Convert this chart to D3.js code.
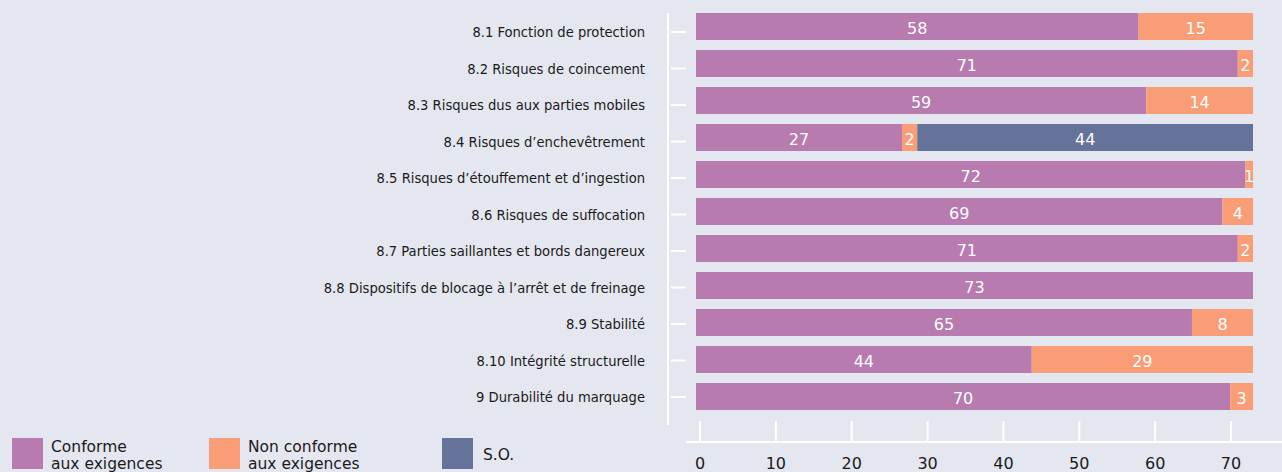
<!DOCTYPE html>
<html>
<head>
<meta charset="utf-8">
<script src="https://cdn.jsdelivr.net/npm/d3@7"></script>
<style>
  html, body { margin: 0; padding: 0; background: #e4e7ef; }
  svg { display: block; }
</style>
</head>
<body>
<script>
// Data
const categories = [
  '8.1 Fonction de protection',
  '8.2 Risques de coincement',
  '8.3 Risques dus aux parties mobiles',
  '8.4 Risques d\u2019enchevêtrement',
  '8.5 Risques d\u2019étouffement et d\u2019ingestion',
  '8.6 Risques de suffocation',
  '8.7 Parties saillantes et bords dangereux',
  '8.8 Dispositifs de blocage à l\u2019arrêt et de freinage',
  '8.9 Stabilité',
  '8.10 Intégrité structurelle',
  '9 Durabilité du marquage'
];
const conforme = [58, 71, 59, 27, 72, 69, 71, 73, 65, 44, 70];
const nonConforme = [15, 2, 14, 2, 1, 4, 2, 0, 8, 29, 3];
const so = [0, 0, 0, 44, 0, 0, 0, 0, 0, 0, 0];
const xTicks = [0, 10, 20, 30, 40, 50, 60, 70];

const seriesKeys = ['conforme', 'nonConforme', 'so'];
const seriesLabels = [['Conforme', 'aux exigences'], ['Non conforme', 'aux exigences'], ['S.O.']];
const colors = ['#b77baf', '#f99d77', '#65729a'];

const width = 1282;
const height = 472;

const svg = d3.select('body')
  .append('svg')
  .attr('width', width)
  .attr('height', height);

svg.append('rect')
  .attr('width', width)
  .attr('height', height)
  .attr('fill', '#e4e7ef');

// Scales (bars and axis are slightly offset from each other in the original)
const x = d3.scaleLinear().domain([0, 73]).range([696, 1253]);
const xAx = d3.scaleLinear().domain([0, 70]).range([700, 1231]);
const y = d3.scaleBand().domain(categories).range([13, 410]).paddingInner(10 / 37).paddingOuter(0);
const yLab = d3.scalePoint().domain(categories).range([32, 397]);

const rows = categories.map((c, i) => ({
  cat: c, conforme: conforme[i], nonConforme: nonConforme[i], so: so[i]
}));
const stacked = d3.stack().keys(seriesKeys)(rows);

// Bars
const layers = svg.selectAll('g.layer')
  .data(stacked)
  .join('g')
  .attr('class', 'layer')
  .attr('fill', (d, i) => colors[i]);

layers.selectAll('rect')
  .data(d => d)
  .join('rect')
  .attr('x', d => x(d[0]))
  .attr('y', d => y(d.data.cat))
  .attr('width', d => x(d[1]) - x(d[0]))
  .attr('height', y.bandwidth());

// Value labels
layers.selectAll('text')
  .data(d => d.filter(p => p[1] - p[0] > 0))
  .join('text')
  .attr('x', d => (x(d[0]) + x(d[1])) / 2)
  .attr('y', d => y(d.data.cat) + y.bandwidth() / 2 + 7.5)
  .attr('text-anchor', 'middle')
  .attr('fill', '#ffffff')
  .attr('font-family', '"DejaVu Sans", Verdana, sans-serif')
  .attr('font-size', 16)
  .text(d => d[1] - d[0]);

// Y axis
svg.append('line')
  .attr('x1', 668).attr('x2', 668)
  .attr('y1', 13).attr('y2', 425)
  .attr('stroke', '#ffffff').attr('stroke-width', 2);

const yAxis = svg.append('g');
yAxis.selectAll('line')
  .data(categories)
  .join('line')
  .attr('x1', 671).attr('x2', 686)
  .attr('y1', d => yLab(d))
  .attr('y2', d => yLab(d))
  .attr('stroke', '#ffffff').attr('stroke-width', 2);

yAxis.selectAll('text')
  .data(categories)
  .join('text')
  .attr('x', 645)
  .attr('y', d => yLab(d))
  .attr('dy', '0.36em')
  .attr('text-anchor', 'end')
  .attr('fill', '#1a1a1a')
  .attr('font-family', '"DejaVu Sans Condensed", "Liberation Sans Narrow", sans-serif')
  .attr('font-size', 14.6)
  .text(d => d);

// X axis
const xAxis = svg.append('g');
xAxis.append('line')
  .attr('x1', 686).attr('x2', width)
  .attr('y1', 442).attr('y2', 442)
  .attr('stroke', '#ffffff').attr('stroke-width', 2);

xAxis.selectAll('line.tick')
  .data(xTicks)
  .join('line')
  .attr('class', 'tick')
  .attr('x1', d => xAx(d)).attr('x2', d => xAx(d))
  .attr('y1', 421).attr('y2', 442)
  .attr('stroke', '#ffffff').attr('stroke-width', 2);

xAxis.selectAll('text')
  .data(xTicks)
  .join('text')
  .attr('x', d => xAx(d))
  .attr('y', 469)
  .attr('text-anchor', 'middle')
  .attr('fill', '#1a1a1a')
  .attr('font-family', '"DejaVu Sans", Verdana, sans-serif')
  .attr('font-size', 16)
  .text(d => d);

// Legend
const legendX = [12, 209, 442];
const legend = svg.selectAll('g.legend')
  .data(seriesLabels)
  .join('g')
  .attr('class', 'legend')
  .attr('transform', (d, i) => `translate(${legendX[i]},438)`);

legend.append('rect')
  .attr('width', 31).attr('height', 31)
  .attr('fill', (d, i) => colors[i]);

legend.each(function (d) {
  const t = d3.select(this).append('text')
    .attr('fill', '#1a1a1a')
    .attr('font-family', '"DejaVu Sans", Verdana, sans-serif')
    .attr('font-size', 15.5);
  if (d.length === 2) {
    t.append('tspan').attr('x', 39).attr('y', 13.5).text(d[0]);
    t.append('tspan').attr('x', 39).attr('y', 30.5).text(d[1]);
  } else {
    t.append('tspan').attr('x', 41).attr('y', 22).text(d[0]);
  }
});
</script>
</body>
</html>
